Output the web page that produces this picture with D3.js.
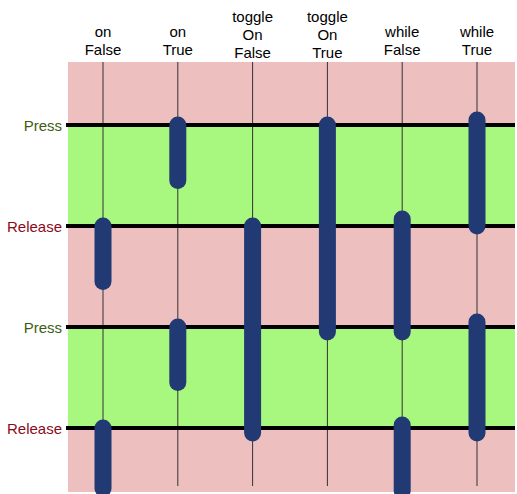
<!DOCTYPE html>
<meta charset="utf-8">
<head>
<script src="https://d3js.org/d3.v7.min.js"></script>
<style>body{margin:0;font-family:"Liberation Sans",Arial,sans-serif;}</style>
</head>
<body>
<div id="chart"></div>
<script>
var columns = ["on False", "on True", "toggle On False", "toggle On True", "while False", "while True"];
var events = ["Press", "Release", "Press", "Release"];
// active intervals per column, in event units (0 = first Press)
var intervals = [
  [[1, 1.55], [3, 3.6]],
  [[0, 0.55], [2, 2.55]],
  [[1, 3.05]],
  [[0, 2.05]],
  [[0.93, 2.05], [2.97, 3.62]],
  [[-0.05, 1], [1.95, 3.05]]
];

var width = 517, height = 494, plotLeft = 68, plotRight = 515, plotTop = 62, plotBottom = 492;

var svg = d3.select("#chart").append("svg").attr("width", width).attr("height", height);

var x = d3.scalePoint().domain(columns).range([103, 477]);
var y = d3.scaleLinear().domain([0, 3]).range([125, 428]);

// background bands
var bounds = [plotTop].concat(events.map(function(d, i){ return y(i); })).concat([plotBottom]);
for (var i = 0; i < bounds.length - 1; i++) {
  svg.append("rect")
    .attr("x", plotLeft).attr("y", bounds[i])
    .attr("width", plotRight - plotLeft).attr("height", bounds[i+1] - bounds[i])
    .attr("fill", i % 2 === 0 ? "#eebfbf" : "#a8f77f");
}

// vertical thin lines
svg.selectAll(".vline").data(columns).enter().append("line")
  .attr("x1", function(d){ return x(d); }).attr("x2", function(d){ return x(d); })
  .attr("y1", plotTop).attr("y2", 486)
  .attr("stroke", "#333").attr("stroke-width", 1);

// horizontal event lines
svg.selectAll(".hline").data(events).enter().append("line")
  .attr("x1", 66).attr("x2", plotRight)
  .attr("y1", function(d, i){ return y(i); }).attr("y2", function(d, i){ return y(i); })
  .attr("stroke", "#000").attr("stroke-width", 4);

// event labels
svg.selectAll(".elabel").data(events).enter().append("text")
  .attr("x", 62).attr("y", function(d, i){ return y(i) + 6; })
  .attr("text-anchor", "end").attr("font-size", 15)
  .attr("fill", function(d){ return d === "Press" ? "#3d5c12" : "#8b0a1a"; })
  .text(function(d){ return d; });

// bars
columns.forEach(function(c, ci){
  svg.selectAll(null).data(intervals[ci]).enter().append("line")
    .attr("x1", x(c)).attr("x2", x(c))
    .attr("y1", function(d){ return y(d[0]); })
    .attr("y2", function(d){ return y(d[1]); })
    .attr("stroke", "#213a73").attr("stroke-width", 17)
    .attr("stroke-linecap", "round");
});

// column labels
columns.forEach(function(c){
  var words = c.split(" ");
  var t = svg.append("text").attr("text-anchor", "middle").attr("font-size", 15).attr("fill", "#000");
  words.forEach(function(w, wi){
    t.append("tspan").attr("x", x(c))
      .attr("y", 55 - (words.length - 1 - wi) * 18 - (words.length === 2 ? 0 : -3))
      .text(w);
  });
});
</script>
</body>
